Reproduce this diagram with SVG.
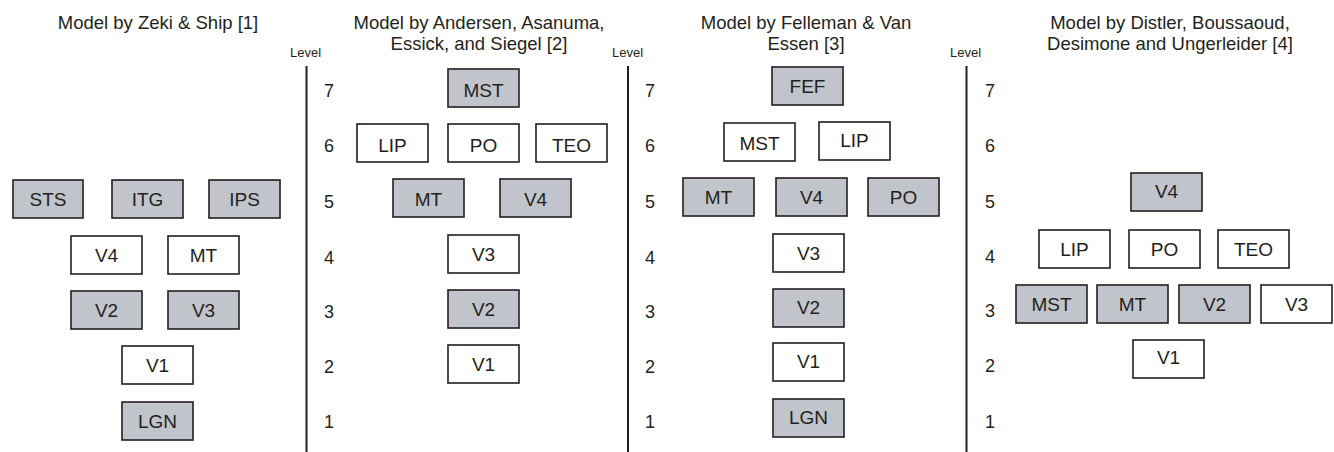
<svg xmlns="http://www.w3.org/2000/svg" width="1334" height="452" viewBox="0 0 1334 452">
<style>
text{font-family:"Liberation Sans",Arial,sans-serif;fill:#231f20}
.t{font-size:18.5px;text-anchor:middle}
.lv{font-size:13px}
.n{font-size:18px;text-anchor:middle}
.b rect{stroke:#231f20;stroke-width:1.6}
.g rect{fill:#c1c4ca}
.w rect{fill:#ffffff}
.b text{font-size:19px;text-anchor:middle}
.ax{stroke:#231f20;stroke-width:2;fill:none}
</style>
<rect width="1334" height="452" fill="#ffffff"/>
<g id="titles">
<text class="t" x="158" y="29">Model by Zeki &amp; Ship [1]</text>
<text class="t" x="479" y="29">Model by Andersen, Asanuma,</text>
<text class="t" x="479" y="50">Essick, and Siegel [2]</text>
<text class="t" x="806" y="29">Model by Felleman &amp; Van</text>
<text class="t" x="806" y="50">Essen [3]</text>
<text class="t" x="1170" y="29">Model by Distler, Boussaoud,</text>
<text class="t" x="1170" y="50">Desimone and Ungerleider [4]</text>
</g>
<g id="axes">
<text class="lv" x="290" y="57">Level</text>
<text class="lv" x="612" y="57">Level</text>
<text class="lv" x="950" y="57">Level</text>
<line class="ax" x1="306.5" y1="66" x2="306.5" y2="452"/>
<line class="ax" x1="628" y1="66" x2="628" y2="452"/>
<line class="ax" x1="966.5" y1="66" x2="966.5" y2="452"/>
<g id="levels1">
<text class="n" x="329" y="97">7</text><text class="n" x="329" y="152">6</text><text class="n" x="329" y="208">5</text><text class="n" x="329" y="264">4</text><text class="n" x="329" y="318">3</text><text class="n" x="329" y="373">2</text><text class="n" x="329" y="428">1</text>
</g>
<g id="levels2">
<text class="n" x="650" y="97">7</text><text class="n" x="650" y="152">6</text><text class="n" x="650" y="208">5</text><text class="n" x="650" y="264">4</text><text class="n" x="650" y="318">3</text><text class="n" x="650" y="373">2</text><text class="n" x="650" y="428">1</text>
</g>
<g id="levels3">
<text class="n" x="990" y="97">7</text><text class="n" x="990" y="152">6</text><text class="n" x="990" y="208">5</text><text class="n" x="990" y="263">4</text><text class="n" x="990" y="317">3</text><text class="n" x="990" y="372">2</text><text class="n" x="990" y="428">1</text>
</g>
</g>
<g id="connectors"></g>
<!-- Panel 1: Zeki & Ship -->
<g id="p1-STS" class="b g"><rect x="13" y="180" width="70" height="38"/><text x="48" y="206">STS</text></g>
<g id="p1-ITG" class="b g"><rect x="112" y="180" width="71" height="38"/><text x="147.5" y="206">ITG</text></g>
<g id="p1-IPS" class="b g"><rect x="209" y="180" width="71" height="38"/><text x="244.5" y="206">IPS</text></g>
<g id="p1-V4" class="b w"><rect x="71" y="236" width="71" height="38"/><text x="106.5" y="262">V4</text></g>
<g id="p1-MT" class="b w"><rect x="168" y="236" width="71" height="38"/><text x="203.5" y="262">MT</text></g>
<g id="p1-V2" class="b g"><rect x="71" y="291" width="71" height="38"/><text x="106.5" y="317">V2</text></g>
<g id="p1-V3" class="b g"><rect x="168" y="291" width="71" height="38"/><text x="203.5" y="317">V3</text></g>
<g id="p1-V1" class="b w"><rect x="122" y="346" width="71" height="38"/><text x="157.5" y="372">V1</text></g>
<g id="p1-LGN" class="b g"><rect x="122" y="402" width="71" height="38"/><text x="157.5" y="428">LGN</text></g>
<!-- Panel 2: Andersen et al. -->
<g id="p2-MST" class="b g"><rect x="448" y="69" width="71" height="38"/><text x="483.5" y="97">MST</text></g>
<g id="p2-LIP" class="b w"><rect x="357" y="124" width="71" height="38"/><text x="392.5" y="152">LIP</text></g>
<g id="p2-PO" class="b w"><rect x="448" y="124" width="71" height="38"/><text x="483.5" y="152">PO</text></g>
<g id="p2-TEO" class="b w"><rect x="536" y="124" width="71" height="38"/><text x="571.5" y="152">TEO</text></g>
<g id="p2-MT" class="b g"><rect x="393" y="179" width="71" height="38"/><text x="428.5" y="206">MT</text></g>
<g id="p2-V4" class="b g"><rect x="500" y="179" width="71" height="38"/><text x="535.5" y="206">V4</text></g>
<g id="p2-V3" class="b w"><rect x="448" y="235" width="71" height="38"/><text x="483.5" y="261">V3</text></g>
<g id="p2-V2" class="b g"><rect x="448" y="290" width="71" height="38"/><text x="483.5" y="316">V2</text></g>
<g id="p2-V1" class="b w"><rect x="448" y="345" width="71" height="38"/><text x="483.5" y="371">V1</text></g>
<!-- Panel 3: Felleman & Van Essen -->
<g id="p3-FEF" class="b g"><rect x="772" y="67" width="71" height="38"/><text x="807.5" y="93">FEF</text></g>
<g id="p3-MST" class="b w"><rect x="724" y="123" width="71" height="38"/><text x="759.5" y="150">MST</text></g>
<g id="p3-LIP" class="b w"><rect x="819" y="122" width="71" height="38"/><text x="854.5" y="147">LIP</text></g>
<g id="p3-MT" class="b g"><rect x="683" y="178" width="71" height="38"/><text x="718.5" y="204">MT</text></g>
<g id="p3-V4" class="b g"><rect x="776" y="178" width="71" height="38"/><text x="811.5" y="204">V4</text></g>
<g id="p3-PO" class="b g"><rect x="868" y="178" width="71" height="38"/><text x="903.5" y="204">PO</text></g>
<g id="p3-V3" class="b w"><rect x="773" y="234" width="71" height="38"/><text x="808.5" y="260">V3</text></g>
<g id="p3-V2" class="b g"><rect x="773" y="289" width="71" height="38"/><text x="808.5" y="314">V2</text></g>
<g id="p3-V1" class="b w"><rect x="773" y="343" width="71" height="38"/><text x="808.5" y="368">V1</text></g>
<g id="p3-LGN" class="b g"><rect x="773" y="399" width="71" height="38"/><text x="808.5" y="424">LGN</text></g>
<!-- Panel 4: Distler et al. -->
<g id="p4-V4" class="b g"><rect x="1131" y="173" width="71" height="38"/><text x="1166.5" y="198">V4</text></g>
<g id="p4-LIP" class="b w"><rect x="1039" y="230" width="71" height="38"/><text x="1074.5" y="256">LIP</text></g>
<g id="p4-PO" class="b w"><rect x="1129" y="230" width="71" height="38"/><text x="1164.5" y="256">PO</text></g>
<g id="p4-TEO" class="b w"><rect x="1218" y="230" width="71" height="38"/><text x="1253.5" y="256">TEO</text></g>
<g id="p4-MST" class="b g"><rect x="1016" y="285" width="71" height="38"/><text x="1051.5" y="311">MST</text></g>
<g id="p4-MT" class="b g"><rect x="1097" y="285" width="71" height="38"/><text x="1132.5" y="311">MT</text></g>
<g id="p4-V2" class="b g"><rect x="1179" y="285" width="71" height="38"/><text x="1214.5" y="311">V2</text></g>
<g id="p4-V3" class="b w"><rect x="1261" y="285" width="71" height="38"/><text x="1296.5" y="311">V3</text></g>
<g id="p4-V1" class="b w"><rect x="1133" y="340" width="71" height="38"/><text x="1168.5" y="364">V1</text></g>
</svg>
